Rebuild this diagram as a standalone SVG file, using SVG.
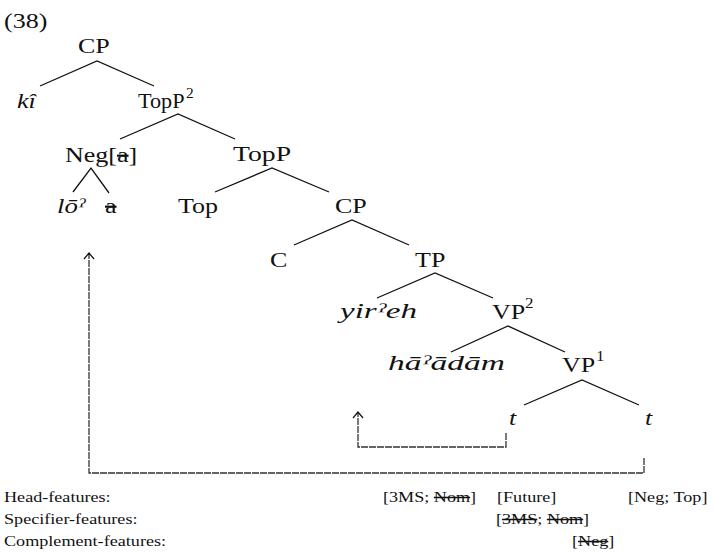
<svg xmlns="http://www.w3.org/2000/svg" width="713" height="552" viewBox="0 0 713 552">
  <style>
    text { font-family: "Liberation Serif", "Times New Roman", serif; fill: #111; }
    .n { font-size: 21.5px; }
    .i { font-style: italic; }
    .sup { font-size: 14px; }
    .f { font-size: 15px; }
    .x { text-decoration: line-through; }
    .edge { stroke: #111; stroke-width: 1.3; fill: none; }
    .move { stroke: #333; stroke-width: 1.3; fill: none; stroke-dasharray: 7 1; marker-end: url(#arr); }
  </style>
  <defs>
    <marker id="arr" markerUnits="userSpaceOnUse" markerWidth="14" markerHeight="14" viewBox="-7 -7 14 14" refX="0" refY="0" orient="auto">
      <path d="M-6,-5 L0,0 L-6,5" stroke="#111" stroke-width="1.2" fill="none"/>
    </marker>
  </defs>

  <rect width="713" height="552" fill="#fff"/>

  <text class="n" transform="translate(4 28) scale(1.21 1)">(38)</text>

  <!-- tree branches -->
  <g id="edges">
    <path class="edge" d="M40,86 L97,61 L154,86"/>
    <path class="edge" d="M120,139 L178,114 L235,139"/>
    <path class="edge" d="M73,192 L91,168 L109,193"/>
    <path class="edge" d="M215,192 L272,168 L329,192"/>
    <path class="edge" d="M294,245 L352,220 L409,245"/>
    <path class="edge" d="M377,298 L435,273 L493,298"/>
    <path class="edge" d="M451,352 L508,326 L565,352"/>
    <path class="edge" d="M524,405 L582,380 L639,405"/>
  </g>

  <!-- movement arrows -->
  <g id="connectors">
    <path class="move" d="M506,433 V447 H358 V412"/>
    <path class="move" d="M644,458 V473 H89 V253"/>
  </g>

  <g id="cp1"><text class="n" transform="translate(78 53) scale(1.21 1)">CP</text></g>
  <g id="ki"><text class="n i" transform="translate(17 108) scale(1.21 1)">kî</text></g>
  <g id="topp2">
    <text class="n" transform="translate(138 108) scale(1.21 1)" textLength="38.5" lengthAdjust="spacingAndGlyphs">TopP</text>
    <text class="sup" transform="translate(186 98) scale(1.1 1)">2</text>
  </g>
  <g id="neg"><text class="n" transform="translate(65 162) scale(1.21 1)">Neg[<tspan class="x">a</tspan>]</text></g>
  <g id="topp"><text class="n" transform="translate(233 161) scale(1.21 1)" textLength="48" lengthAdjust="spacingAndGlyphs">TopP</text></g>
  <g id="lo"><text class="n i" transform="translate(57 213) scale(1.21 1)" textLength="23.2" lengthAdjust="spacingAndGlyphs">lōˀ</text></g>
  <g id="a"><text class="n" transform="translate(105 213) scale(1.21 1)"><tspan class="x">a</tspan></text></g>
  <g id="top"><text class="n" transform="translate(178 213) scale(1.21 1)">Top</text></g>
  <g id="cp2"><text class="n" transform="translate(335 213) scale(1.21 1)">CP</text></g>
  <g id="c"><text class="n" transform="translate(270 267) scale(1.21 1)">C</text></g>
  <g id="tp"><text class="n" transform="translate(415 267) scale(1.21 1)">TP</text></g>
  <g id="yireh"><text class="n i" transform="translate(340 318) scale(1.21 1)" textLength="63.6" lengthAdjust="spacingAndGlyphs">yirˀeh</text></g>
  <g id="vp2">
    <text class="n" transform="translate(492 319) scale(1.21 1)">VP</text>
    <text class="sup" transform="translate(525 308) scale(1.21 1)">2</text>
  </g>
  <g id="haadam"><text class="n i" transform="translate(388 370) scale(1.21 1)" textLength="96.7" lengthAdjust="spacingAndGlyphs">hāˀādām</text></g>
  <g id="vp1">
    <text class="n" transform="translate(562 372) scale(1.21 1)">VP</text>
    <text class="sup" transform="translate(596 361) scale(1.21 1)">1</text>
  </g>
  <g id="t1"><text class="n i" transform="translate(509 425) scale(1.21 1)">t</text></g>
  <g id="t2"><text class="n i" transform="translate(645 425) scale(1.21 1)">t</text></g>

  <!-- feature table -->
  <g id="features">
    <text class="f" transform="translate(4 502) scale(1.21 1)">Head-features:</text>
    <text class="f" transform="translate(4 524) scale(1.21 1)">Specifier-features:</text>
    <text class="f" transform="translate(4 546) scale(1.21 1)">Complement-features:</text>
    <text class="f" transform="translate(383 502) scale(1.21 1)">[3MS; <tspan class="x">Nom</tspan>]</text>
    <text class="f" transform="translate(497 502) scale(1.21 1)">[Future]</text>
    <text class="f" transform="translate(628 502) scale(1.21 1)">[Neg; Top]</text>
    <text class="f" transform="translate(496 524) scale(1.21 1)">[<tspan class="x">3MS</tspan>; <tspan class="x">Nom</tspan>]</text>
    <text class="f" transform="translate(572 546) scale(1.21 1)">[<tspan class="x">Neg</tspan>]</text>
  </g>
</svg>
